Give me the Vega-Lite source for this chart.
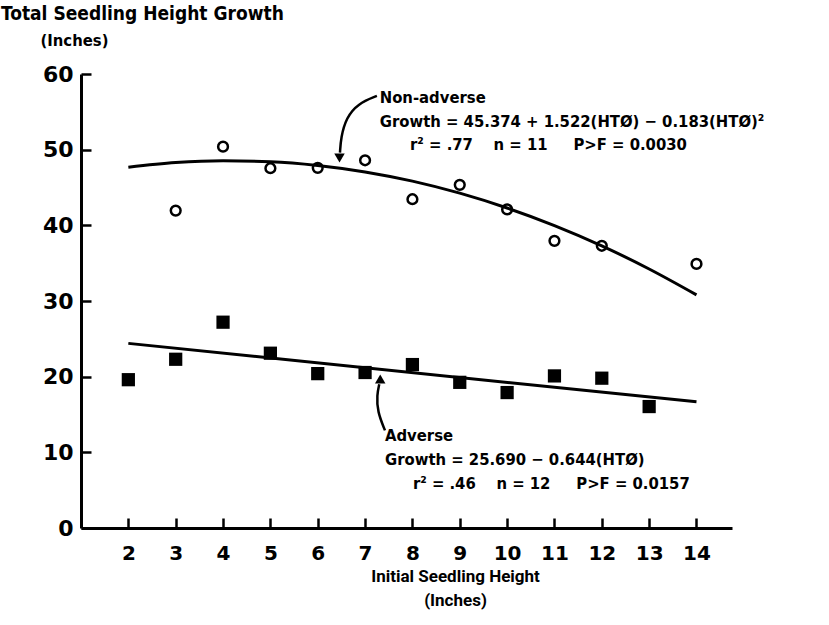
{
  "$schema": "https://vega.github.io/schema/vega-lite/v6.json",
  "width": 651,
  "height": 454,
  "autosize": {"type": "none"},
  "padding": {"left": 81, "top": 74, "right": 97, "bottom": 97},
  "background": "white",
  "view": {"stroke": null},
  "title": {
    "text": "Total Seedling Height Growth",
    "anchor": "start",
    "frame": "group",
    "dx": -80,
    "offset": 8,
    "font": "DejaVu Sans Condensed",
    "fontWeight": "bold",
    "fontSize": 19,
    "color": "black"
  },
  "config": {
    "font": "DejaVu Sans Condensed",
    "axis": {
      "grid": false,
      "domainColor": "black",
      "domainWidth": 3,
      "tickColor": "black",
      "tickWidth": 2.5,
      "tickSize": -10,
      "labelColor": "black",
      "labelFont": "DejaVu Sans",
      "labelFontWeight": "bold",
      "titleColor": "black",
      "titleFontWeight": "bold"
    }
  },
  "datasets": {
    "nonadverse": [
      {"x": 3, "y": 41.95}, {"x": 4, "y": 50.4}, {"x": 5, "y": 47.55}, {"x": 6, "y": 47.6},
      {"x": 7, "y": 48.6}, {"x": 8, "y": 43.45}, {"x": 9, "y": 45.35}, {"x": 10, "y": 42.1},
      {"x": 11, "y": 37.95}, {"x": 12, "y": 37.3}, {"x": 14, "y": 34.9}
    ],
    "adverse": [
      {"x": 2, "y": 19.6}, {"x": 3, "y": 22.3}, {"x": 4, "y": 27.2}, {"x": 5, "y": 23.1},
      {"x": 6, "y": 20.4}, {"x": 7, "y": 20.55}, {"x": 8, "y": 21.6}, {"x": 9, "y": 19.25},
      {"x": 10, "y": 17.9}, {"x": 11, "y": 20.1}, {"x": 12, "y": 19.8}, {"x": 13, "y": 16.05}
    ],
    "curves": [
      {"series": "Non-adverse", "x": 2, "y": 47.69}, {"series": "Non-adverse", "x": 3, "y": 48.29},
      {"series": "Non-adverse", "x": 4, "y": 48.53}, {"series": "Non-adverse", "x": 5, "y": 48.41},
      {"series": "Non-adverse", "x": 6, "y": 47.92}, {"series": "Non-adverse", "x": 7, "y": 47.06},
      {"series": "Non-adverse", "x": 8, "y": 45.84}, {"series": "Non-adverse", "x": 9, "y": 44.25},
      {"series": "Non-adverse", "x": 10, "y": 42.29}, {"series": "Non-adverse", "x": 11, "y": 39.97},
      {"series": "Non-adverse", "x": 12, "y": 37.29}, {"series": "Non-adverse", "x": 13, "y": 34.23},
      {"series": "Non-adverse", "x": 14, "y": 30.81},
      {"series": "Adverse", "x": 2, "y": 24.4}, {"series": "Adverse", "x": 14, "y": 16.67}
    ],
    "arrows": [
      {"series": "na", "o": 1, "x": 7.25, "y": 57.1},
      {"series": "na", "o": 2, "x": 6.85, "y": 56.1},
      {"series": "na", "o": 3, "x": 6.6, "y": 54.2},
      {"series": "na", "o": 4, "x": 6.49, "y": 51.6},
      {"series": "na", "o": 5, "x": 6.47, "y": 49.6},
      {"series": "ad", "o": 1, "x": 7.42, "y": 12.9},
      {"series": "ad", "o": 2, "x": 7.26, "y": 15.4},
      {"series": "ad", "o": 3, "x": 7.25, "y": 17.6},
      {"series": "ad", "o": 4, "x": 7.3, "y": 19.0}
    ],
    "heads": [
      {"x": 6.46, "y": 48.9, "shape": "triangle-down"},
      {"x": 7.32, "y": 19.7, "shape": "triangle-up"}
    ],
    "notes": [
      {"x": 7.31, "y": 56.8, "label": "Non-adverse"},
      {"x": 7.31, "y": 53.65, "label": "Growth = 45.374 + 1.522(HTØ) − 0.183(HTØ)²"},
      {"x": 7.95, "y": 50.6, "label": "r² = .77\u00a0\u00a0\u00a0\u00a0n = 11\u00a0\u00a0\u00a0\u00a0\u00a0P>F = 0.0030"},
      {"x": 7.42, "y": 12.2, "label": "Adverse"},
      {"x": 7.42, "y": 9.02, "label": "Growth = 25.690 − 0.644(HTØ)"},
      {"x": 8.01, "y": 5.85, "label": "r² = .46\u00a0\u00a0\u00a0\u00a0n = 12\u00a0\u00a0\u00a0\u00a0\u00a0P>F = 0.0157"}
    ]
  },
  "encoding": {
    "x": {
      "field": "x", "type": "quantitative",
      "scale": {"domain": [1, 14.75], "nice": false, "zero": false},
      "axis": {
        "values": [2, 3, 4, 5, 6, 7, 8, 9, 10, 11, 12, 13, 14],
        "labelPadding": 25,
        "labelFontSize": 20,
        "title": ["Initial Seedling Height", "(Inches)"],
        "titleFont": "Roboto",
        "titleFontSize": 17,
        "titleX": 374,
        "titleY": 40,
        "titleAlign": "center",
        "titleBaseline": "top",
        "titleLineHeight": 24
      }
    },
    "y": {
      "field": "y", "type": "quantitative",
      "scale": {"domain": [0, 60], "nice": false},
      "axis": {
        "values": [0, 10, 20, 30, 40, 50, 60],
        "labelPadding": 18,
        "labelFontSize": 22,
        "title": "(Inches)",
        "titleFont": "DejaVu Sans Condensed",
        "titleFontSize": 16.5,
        "titleAngle": 0,
        "titleAlign": "left",
        "titleBaseline": "middle",
        "titleX": -41,
        "titleY": -34
      }
    }
  },
  "layer": [
    {
      "data": {"name": "curves"},
      "mark": {"type": "line", "color": "black", "strokeWidth": 3, "interpolate": "monotone"},
      "encoding": {"detail": {"field": "series"}}
    },
    {
      "data": {"name": "arrows"},
      "mark": {"type": "line", "color": "black", "strokeWidth": 2.5, "interpolate": "basis"},
      "encoding": {"detail": {"field": "series"}, "order": {"field": "o"}}
    },
    {
      "data": {"name": "heads"},
      "mark": {"type": "point", "filled": true, "color": "black", "size": 110, "opacity": 1},
      "encoding": {"shape": {"field": "shape", "scale": null}}
    },
    {
      "data": {"name": "nonadverse"},
      "mark": {"type": "point", "shape": "circle", "filled": false, "color": "black", "strokeWidth": 2.5, "size": 95, "opacity": 1}
    },
    {
      "data": {"name": "adverse"},
      "mark": {"type": "point", "shape": "square", "filled": true, "color": "black", "size": 175, "opacity": 1}
    },
    {
      "data": {"name": "notes"},
      "mark": {"type": "text", "align": "left", "baseline": "middle", "font": "DejaVu Sans Condensed", "fontWeight": "bold", "fontSize": 16.5, "color": "black"},
      "encoding": {"text": {"field": "label"}}
    }
  ]
}
